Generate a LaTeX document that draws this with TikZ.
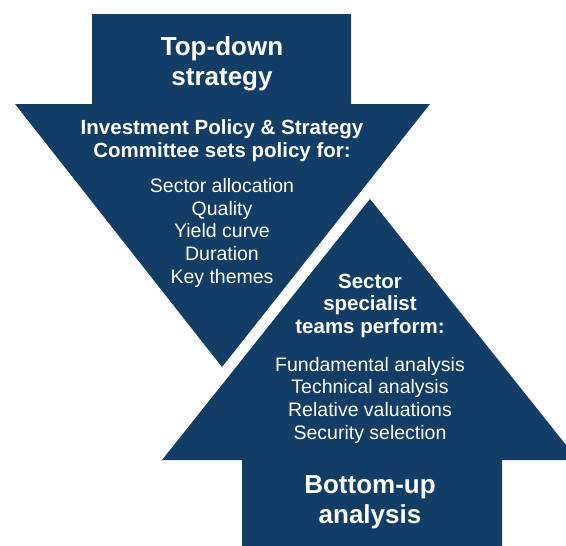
\documentclass[tikz,border=0pt]{standalone}
\usepackage{fontspec}
\setmainfont{Liberation Sans}
\definecolor{navy}{HTML}{113D66}

\begin{document}
\begin{tikzpicture}[x=1pt, y=-1pt,
    title/.style={text=white, align=center, anchor=base, inner sep=0pt,
        font=\fontsize{26}{30}\selectfont\bfseries},
    lead/.style={text=white, align=center, anchor=base, inner sep=0pt,
        font=\fontsize{20.5}{22.5}\selectfont\bfseries},
    items/.style={text=white, align=center, anchor=base, inner sep=0pt,
        font=\fontsize{19.5}{22.6}\selectfont}]
    \useasboundingbox (0,0) rectangle (566,546);
    \clip (0,0) rectangle (566,546);
    % top-down arrow
    \fill[navy] (92,14) -- (351,14) -- (351,104) -- (430,104) -- (222,367)
        -- (15,104) -- (92,104) -- cycle;
    % bottom-up arrow
    \fill[navy] (242,560) -- (242,460) -- (162,460) -- (370,199) -- (578,460)
        -- (502,460) -- (502,560) -- cycle;
    % texts, placed by the baseline of their last line
    \node[title] (topdown) at (222,85) {Top-down\\strategy};
    \node[lead] (committee) at (222,157) {Investment Policy \& Strategy\\Committee sets policy for:};
    \node[items] (policy) at (222,283) {Sector allocation\\Quality\\Yield curve\\Duration\\Key themes};
    \node[lead] (teams) at (370,333) {Sector\\specialist\\teams perform:};
    \node[items] (analyses) at (370,439) {Fundamental analysis\\Technical analysis\\Relative valuations\\Security selection};
    \node[title] (bottomup) at (370,523) {Bottom-up\\analysis};
\end{tikzpicture}
\end{document}
